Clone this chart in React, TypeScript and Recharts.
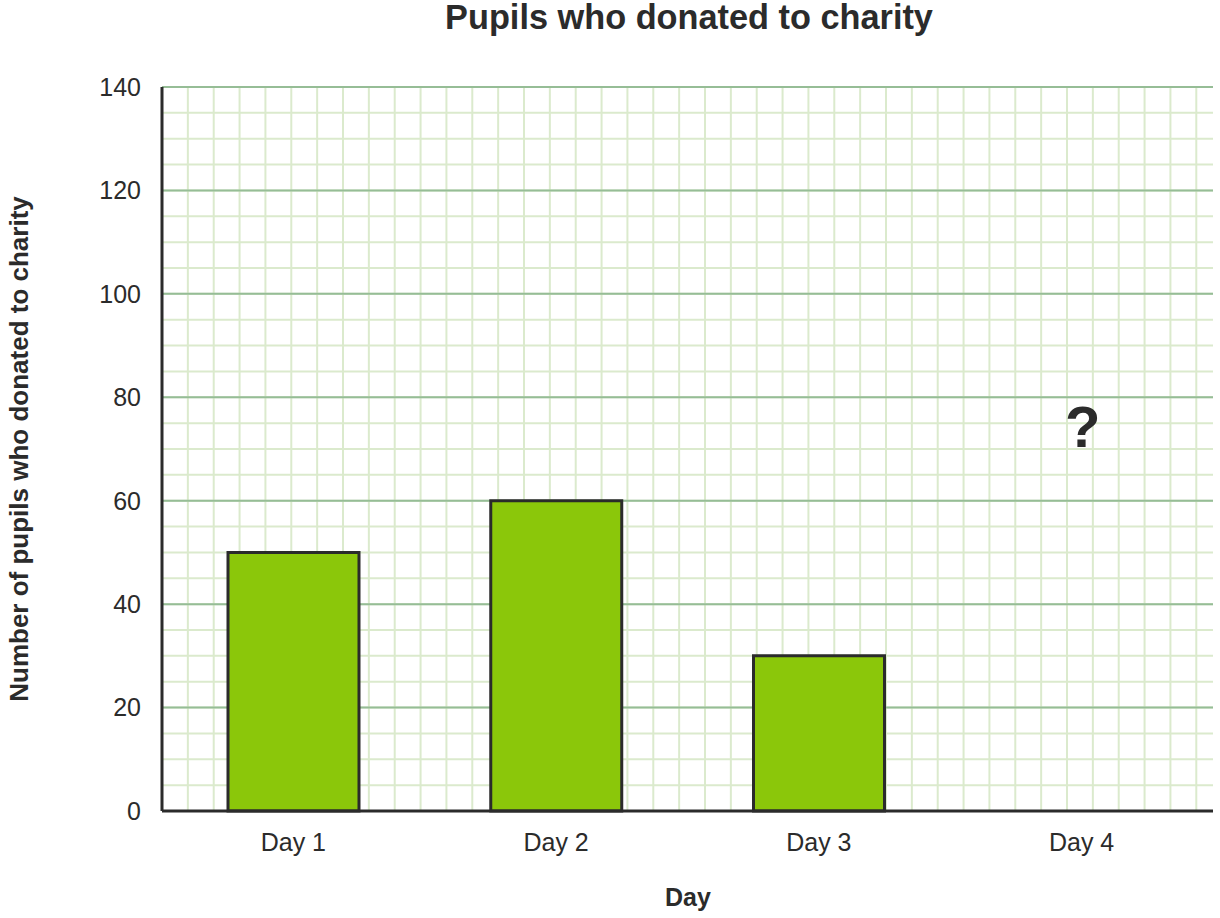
import { BarChart, Bar, XAxis, YAxis, CartesianGrid, ReferenceDot } from 'recharts'

const days = ['Day 1', 'Day 2', 'Day 3', 'Day 4']
const pupils: (number | null)[] = [50, 60, 30, null]
const yTicks = [0, 20, 40, 60, 80, 100, 120, 140]
const Y_MAX = 140
// squared paper: one small cell = 5 pupils, same size across
const CELL = 5
const minorYTicks = Array.from({ length: 29 }, (_, i) => i * CELL)
const COLUMNS = 41

const data = days.map((day, i) => ({ day, pupils: pupils[i] }))

const FONT = '"Liberation Sans", Arial, Helvetica, sans-serif'
const INK = '#2b2b2b'

function yPos(props: any, v: number) {
  const s = props?.yAxis?.scale
  if (typeof s === 'function') return s(v)
  const { top, height } = props.offset
  return top + height * (1 - v / Y_MAX)
}

const minorRows = (props: any) => minorYTicks.map((v) => yPos(props, v))
const minorCols = (props: any) => {
  const step = yPos(props, 0) - yPos(props, CELL)
  return Array.from({ length: COLUMNS }, (_, i) => props.offset.left + i * step)
}

export default function App() {
  return (
    <div style={{ position: 'absolute', left: 0, top: 0, width: 1220, height: 918, background: '#fff', fontFamily: FONT }}>
      <div
        style={{
          position: 'absolute',
          left: 0,
          width: 1378,
          top: -2,
          textAlign: 'center',
          fontSize: 34.3,
          fontWeight: 'bold',
          color: INK,
        }}
      >
        Pupils who donated to charity
      </div>
      <BarChart
        width={1220}
        height={918}
        data={data}
        margin={{ top: 87, right: 7, bottom: 0, left: 0 }}
        barSize={131}
      >
        <CartesianGrid
          stroke="#dbeacd"
          strokeWidth={2}
          horizontalCoordinatesGenerator={minorRows}
          verticalCoordinatesGenerator={minorCols}
        />
        <CartesianGrid vertical={false} stroke="#96bd96" strokeWidth={2} />
        <XAxis
          dataKey="day"
          height={107}
          tick={{ fontSize: 25, fill: INK, fontFamily: FONT }}
          tickLine={false}
          tickSize={6}
          tickMargin={16}
          axisLine={{ stroke: INK, strokeWidth: 3 }}
          label={{
            content: () => (
              <text x={688} y={906} textAnchor="middle" fontSize={25} fontWeight="bold" fill={INK} fontFamily={FONT}>
                Day
              </text>
            ),
          }}
        />
        <YAxis
          type="number"
          domain={[0, Y_MAX]}
          ticks={yTicks}
          width={162}
          tick={{ fontSize: 25, fill: INK, fontFamily: FONT }}
          tickLine={false}
          tickSize={6}
          tickMargin={15}
          axisLine={{ stroke: INK, strokeWidth: 3 }}
          label={{
            content: () => (
              <text
                transform="rotate(-90)"
                x={-449}
                y={19}
                textAnchor="middle"
                dominantBaseline="central"
                fontSize={26}
                fontWeight="bold"
                fill={INK}
                fontFamily={FONT}
              >
                Number of pupils who donated to charity
              </text>
            ),
          }}
        />
        <Bar dataKey="pupils" fill="#8bc70a" stroke={INK} strokeWidth={3} isAnimationActive={false} />
        <ReferenceDot
          x="Day 4"
          y={70}
          r={0}
          stroke="none"
          label={{
            content: (props: any) => {
              const vb = props.viewBox || {}
              const cx = (vb.x ?? 0) + (vb.width ?? 0) / 2
              const cy = (vb.y ?? 0) + (vb.height ?? 0) / 2
              return (
                <text x={cx + 1} y={cy - 2} textAnchor="middle" fontSize={58} fontWeight="bold" fill={INK} fontFamily={FONT}>
                  ?
                </text>
              )
            },
          }}
        />
      </BarChart>
    </div>
  )
}
